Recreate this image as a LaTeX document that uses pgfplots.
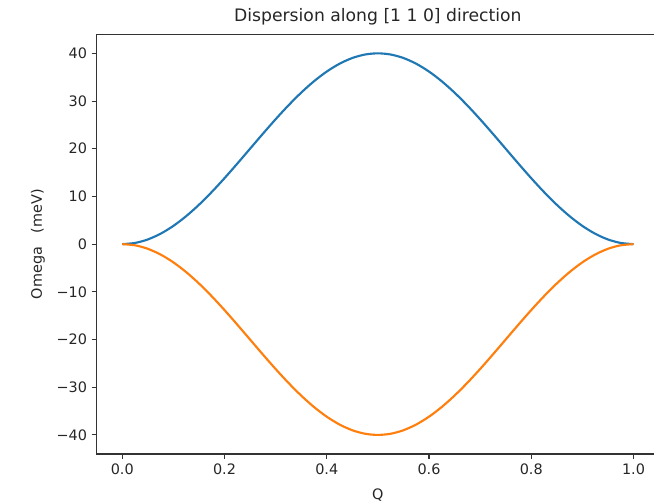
\documentclass[border=0pt]{standalone}
\usepackage{fontspec}
\setmainfont{DejaVu Sans}
\usepackage{pgfplots}
\pgfplotsset{compat=1.18}
\definecolor{mplblue}{HTML}{1F77B4}
\definecolor{mplorange}{HTML}{FF7F0E}

% Omega(Q), upper branch; lower branch is its mirror
\pgfplotstableread{
Q      up       low
0.000  0.0000   -0.0000
0.025  0.2462   -0.2462
0.050  0.9789   -0.9789
0.075  2.1799   -2.1799
0.100  3.8197   -3.8197
0.125  5.8579   -5.8579
0.150  8.2443   -8.2443
0.175  10.9202  -10.9202
0.200  13.8197  -13.8197
0.225  16.8713  -16.8713
0.250  20.0000  -20.0000
0.275  23.1287  -23.1287
0.300  26.1803  -26.1803
0.325  29.0798  -29.0798
0.350  31.7557  -31.7557
0.375  34.1421  -34.1421
0.400  36.1803  -36.1803
0.425  37.8201  -37.8201
0.450  39.0211  -39.0211
0.475  39.7538  -39.7538
0.500  40.0000  -40.0000
0.525  39.7538  -39.7538
0.550  39.0211  -39.0211
0.575  37.8201  -37.8201
0.600  36.1803  -36.1803
0.625  34.1421  -34.1421
0.650  31.7557  -31.7557
0.675  29.0798  -29.0798
0.700  26.1803  -26.1803
0.725  23.1287  -23.1287
0.750  20.0000  -20.0000
0.775  16.8713  -16.8713
0.800  13.8197  -13.8197
0.825  10.9202  -10.9202
0.850  8.2443   -8.2443
0.875  5.8579   -5.8579
0.900  3.8197   -3.8197
0.925  2.1799   -2.1799
0.950  0.9789   -0.9789
0.975  0.2462   -0.2462
1.000  0.0000   -0.0000
}\disp

\begin{document}
\begin{tikzpicture}
\begin{axis}[
  at={(0,0)}, anchor=south west,
  scale only axis, width=421.8pt, height=314.8pt,
  xmin=-0.05, xmax=1.05, ymin=-44, ymax=44,
  xtick={0,0.2,0.4,0.6,0.8,1.0},
  xticklabels={0.0,0.2,0.4,0.6,0.8,1.0},
  ytick={-40,-30,-20,-10,0,10,20,30,40},
  yticklabels={−40,−30,−20,−10,0,10,20,30,40},
  tick align=outside, tick pos=left,
  major tick length=3.75pt,
  every tick/.style={black!80, line width=0.8pt},
  axis line style={line width=0.8pt, black!80},
  tick label style={font=\fontsize{10.8}{13}\selectfont, text=black!85},
  xlabel={Q}, ylabel={Omega\ \ \ (meV)},
  label style={font=\fontsize{10.8}{13}\selectfont, text=black!85},
  x label style={at={(axis description cs:0.5,-0.099)}, anchor=center},
  y label style={at={(axis description cs:-0.1045,0.5)}, anchor=center, rotate=0},
  title={Dispersion along [1 1 0] direction},
  title style={at={(axis description cs:0.5,1.022)}, anchor=center,
    font=\fontsize{12.9}{15}\selectfont, text=black!85},
  clip=false,
]
\addplot[mplblue, line width=1.6pt, smooth] table[x=Q, y=up] {\disp};
\addplot[mplorange, line width=1.6pt, smooth] table[x=Q, y=low] {\disp};
\end{axis}
\pgfresetboundingbox
\path (-72.5pt,-36pt) rectangle (418pt,340.5pt);
\end{tikzpicture}
\end{document}
